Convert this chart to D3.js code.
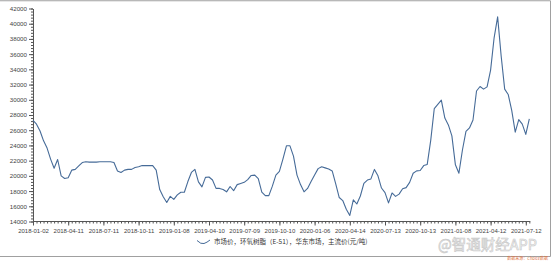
<!DOCTYPE html>
<html>
<head>
<meta charset="utf-8">
<script src="https://cdn.jsdelivr.net/npm/d3@7"></script>
<style>
  body { margin: 0; background: #fff; }
  .canvas svg { display: block; }
  text { font-family: "Liberation Sans", Arial, sans-serif; }
</style>
</head>
<body>
<div class="canvas"></div>
<script>
// tick labels on the x axis, one every 10 samples
const tickDates = ['2018-01-02','2018-04-11','2018-07-11','2018-10-11','2019-01-08',
  '2019-04-10','2019-07-09','2019-10-10','2020-01-06','2020-04-14',
  '2020-07-13','2020-10-13','2021-01-08','2021-04-12','2021-07-12'];

// 市场价 环氧树脂(E-51) 华东市场, 元/吨
const prices = [
  27300, 26800, 25900, 24600, 23650, 22200, 21000, 22150, 20000, 19650,
  19750, 20750, 20850, 21300, 21750, 21850, 21800, 21800, 21800, 21850,
  21850, 21850, 21850, 21750, 20650, 20450, 20750, 20850, 20850, 21100,
  21200, 21350, 21350, 21350, 21350, 20750, 18200, 17250, 16500, 17300,
  16900, 17500, 17850, 17850, 19250, 20450, 20850, 19200, 18550, 19800,
  19850, 19450, 18350, 18350, 18200, 17900, 18600, 18050, 18850, 19000,
  19150, 19500, 20050, 20100, 19650, 17850, 17400, 17400, 18650, 20100,
  20600, 22200, 23950, 23950, 22600, 20100, 18850, 17900, 18350, 19250,
  20100, 20950, 21200, 21050, 20900, 20650, 18950, 17150, 16750, 15600,
  14800, 16850, 16300, 17350, 19000, 19450, 19600, 20850, 20000, 18400,
  17800, 16450, 17750, 17300, 17600, 18300, 18450, 19150, 20350, 20650,
  20700, 21350, 21500, 24700, 28850, 29400, 29950, 27600, 26700, 25250,
  21450, 20350, 23400, 25850, 26300, 27350, 31150, 31750, 31400, 31700,
  33900, 38150, 40900, 35750, 31400, 30700, 28600, 25750, 27400, 26800,
  25450, 27500
];

const yTicks = [14000,16000,18000,20000,22000,24000,26000,28000,30000,32000,34000,36000,38000,40000,42000];

const legendLabel = '市场价，环氧树脂（E-51），华东市场，主流价(元/吨)';
const sourceLabel = '数据来源：Choice数据';
const watermark = '@智通财经APP';

const dims = { width: 554, height: 261 };
const plot = { left: 33, right: 525.8, top: 8.5, bottom: 221.5 };

const svg = d3.select('.canvas')
  .append('svg')
  .attr('width', dims.width)
  .attr('height', dims.height);

// frame
svg.append('path')
  .attr('d', `M0,0.75 H550.5 V256.5 H0`)
  .attr('fill', 'none')
  .attr('stroke', '#a0a0a0')
  .attr('stroke-width', 1);

const x = d3.scaleLinear()
  .domain([0, (tickDates.length - 1) * 10])
  .range([plot.left, plot.right]);

const y = d3.scaleLinear()
  .domain([14000, 42000])
  .range([plot.bottom, plot.top]);

// minor ticks
svg.append('g')
  .attr('transform', `translate(0, ${plot.bottom})`)
  .call(d3.axisBottom(x).tickValues(d3.range(0, prices.length)).tickSize(2).tickFormat(''))
  .call(g => g.select('.domain').remove())
  .selectAll('line').attr('stroke', '#555');

svg.append('g')
  .attr('transform', `translate(${plot.left}, 0)`)
  .call(d3.axisLeft(y).tickValues(d3.range(14000, 42001, 400)).tickSize(2).tickFormat(''))
  .call(g => g.select('.domain').remove())
  .selectAll('line').attr('stroke', '#555');

// major axes
const xAxis = svg.append('g')
  .attr('transform', `translate(0, ${plot.bottom})`)
  .call(d3.axisBottom(x)
    .tickValues(tickDates.map((d, i) => i * 10))
    .tickFormat((d, i) => tickDates[i])
    .tickSize(4).tickSizeOuter(0).tickPadding(3));
xAxis.select('.domain').attr('stroke', '#555').attr('d', `M${plot.left},0H${x(prices.length - 1) + 1}`);
xAxis.selectAll('line').attr('stroke', '#555');
xAxis.selectAll('text').attr('fill', '#444').style('font-size', '6px');

const yAxis = svg.append('g')
  .attr('transform', `translate(${plot.left}, 0)`)
  .call(d3.axisLeft(y).tickValues(yTicks).tickFormat(d3.format('d')).tickSize(4).tickSizeOuter(0).tickPadding(2));
yAxis.selectAll('.domain, line').attr('stroke', '#555');
yAxis.selectAll('text').attr('fill', '#444').style('font-size', '6.2px');

// series
const line = d3.line()
  .x((d, i) => x(i))
  .y(d => y(d));

svg.append('path')
  .datum(prices)
  .attr('d', line)
  .attr('fill', 'none')
  .attr('stroke', '#466b98')
  .attr('stroke-width', 1.1)
  .attr('stroke-linejoin', 'round');

// legend
const legend = svg.append('g').attr('transform', 'translate(197, 242)');
const sym = d3.path();
sym.moveTo(0, -1.5);
sym.quadraticCurveTo(4, 2.5, 7, 1.5);
sym.quadraticCurveTo(10, 0.5, 13, -2);
legend.append('path')
  .attr('d', sym.toString())
  .attr('fill', 'none')
  .attr('stroke', '#466b98')
  .attr('stroke-width', 1);
legend.append('text')
  .attr('x', 17)
  .attr('y', 2.3)
  .attr('fill', '#333')
  .style('font-size', '6.5px')
  .style('font-family', '"Noto Sans CJK SC", sans-serif')
  .text(legendLabel);

// watermark and source
svg.append('text')
  .attr('x', 438)
  .attr('y', 250)
  .attr('fill', '#f6f6f6')
  .attr('stroke', '#c8c8c8')
  .attr('stroke-width', 0.6)
  .style('font-size', '14.5px')
  .style('font-family', '"Noto Sans CJK SC", sans-serif')
  .text(watermark);

svg.append('text')
  .attr('x', 548)
  .attr('y', 260)
  .attr('text-anchor', 'end')
  .attr('fill', '#e0703a')
  .style('font-size', '4px')
  .style('font-family', '"Noto Sans CJK SC", sans-serif')
  .text(sourceLabel);
</script>
</body>
</html>
